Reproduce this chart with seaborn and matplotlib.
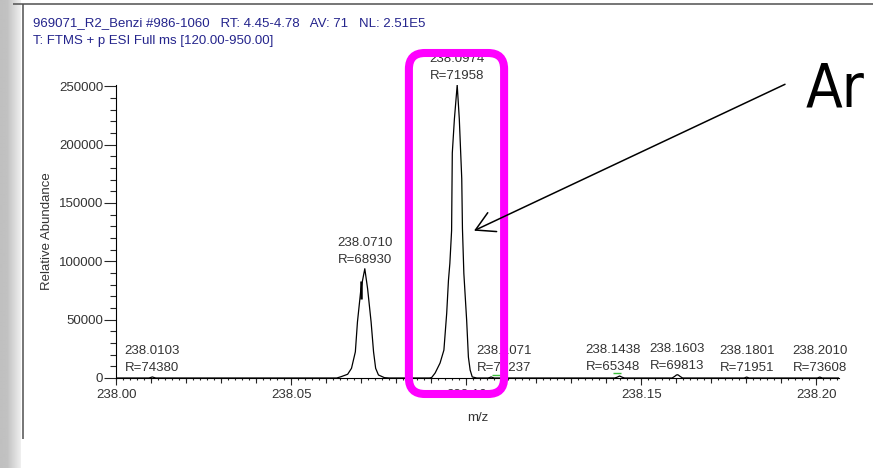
import numpy as np
import pandas as pd
import matplotlib
matplotlib.use("Agg")
import matplotlib.pyplot as plt
import seaborn as sns
from matplotlib.patches import FancyBboxPatch, FancyArrowPatch
from matplotlib.ticker import MultipleLocator, FormatStrFormatter

# ---- profile spectrum -------------------------------------------------------
mz = [
    238.0000,
    238.0093, 238.0098, 238.0103, 238.0108, 238.0113,
    238.0630,
    238.0642, 238.0661, 238.0672, 238.0683, 238.0689, 238.0699, 238.0710,
    238.0718, 238.0728, 238.0735, 238.0741, 238.0749, 238.0766, 238.0780,
    238.0895,
    238.0901, 238.0911, 238.0925, 238.0936, 238.0944, 238.0949, 238.0953,
    238.0958, 238.0959, 238.0960, 238.0966, 238.0974, 238.0980, 238.0987,
    238.0989, 238.0993, 238.1001, 238.1006, 238.1011, 238.1017, 238.1030,
    238.1062, 238.1067, 238.1071, 238.1075, 238.1080,
    238.1424, 238.1431, 238.1438, 238.1445, 238.1452,
    238.1588, 238.1595, 238.1600, 238.1603, 238.1606, 238.1611, 238.1618,
    238.1794, 238.1801, 238.1808,
    238.2003, 238.2010, 238.2017,
    238.2066,
]
intensity = [
    0,
    0, 400, 900, 400, 0,
    0,
    1100, 3200, 8300, 22400, 48000, 76500, 93600,
    76500, 48000, 22400, 8300, 2600, 300, 0,
    0,
    400, 4300, 12800, 23900, 55500, 83600, 98100,
    126300, 160400, 192800, 221900, 251000, 221900, 170700,
    128000, 89600, 49500, 17900, 6800, 900, 0,
    0, 400, 900, 400, 0,
    0, 700, 1700, 700, 0,
    0, 1300, 2500, 2800, 2500, 1300, 0,
    0, 800, 0,
    0, 800, 0,
    0,
]

# labelled peaks
peak_mz = [238.0103, 238.0710, 238.0974, 238.1071, 238.1438, 238.1603, 238.1801, 238.2010]
peak_height = [900, 93600, 251000, 900, 1700, 2800, 800, 800]
peak_res = [74380, 68930, 71958, 71237, 65348, 69813, 71951, 73608]
label_shift_px = [0, 0, 0, 13, -7, 0, 0, 0]

# short green flags on the baseline
flag_lo = [238.1073, 238.1419]
flag_hi = [238.1097, 238.1442]
flag_level = [2600, 4000]

# bold stroke on the flank of the 238.0710 peak
stick_mz = [238.0698]
stick_lo = [68000]
stick_hi = [83000]

# highlighted m/z window around the main peak
box_mz = (238.0836, 238.1108)

header = [
    "969071_R2_Benzi #986-1060   RT: 4.45-4.78   AV: 71   NL: 2.51E5",
    "T: FTMS + p ESI Full ms [120.00-950.00]",
]

# ---- style ------------------------------------------------------------------
sns.set_style("white")
plt.rcParams["font.family"] = ["Liberation Sans", "DejaVu Sans"]
TXT = "#333333"
FS = 9.5

W, H, DPI = 873, 468, 100
fig = plt.figure(figsize=(W / DPI, H / DPI), dpi=DPI)
fig.patch.set_facecolor("white")

# plot area in pixels: x 116.3..839, y 85..378
L, R, T, B = 116.3, 839.0, 85.0, 378.0
ax = fig.add_axes([L / W, (H - B) / H, (R - L) / W, (B - T) / H])
ax.set_facecolor("none")

df = pd.DataFrame({"mz": mz, "intensity": intensity})
sns.lineplot(data=df, x="mz", y="intensity", ax=ax, color="black",
             linewidth=0.9, estimator=None, sort=False)
ax.vlines(stick_mz, stick_lo, stick_hi, color="black", linewidth=1.8)
ax.hlines(flag_level, flag_lo, flag_hi, color="#3cbf3c", linewidth=1.0)

ax.set_xlim(238.0, 238.0 + (R - L) / 3500.0)
ax.set_ylim(0, 251000)

for s in ("top", "right"):
    ax.spines[s].set_visible(False)
for s in ("left", "bottom"):
    ax.spines[s].set_color("black")
    ax.spines[s].set_linewidth(0.8)

ax.xaxis.set_major_locator(MultipleLocator(0.05))
ax.xaxis.set_minor_locator(MultipleLocator(0.01))
ax.xaxis.set_major_formatter(FormatStrFormatter("%.2f"))
ax.yaxis.set_major_locator(MultipleLocator(50000))
ax.yaxis.set_minor_locator(MultipleLocator(10000))
ax.yaxis.set_major_formatter(FormatStrFormatter("%d"))

ax.tick_params(axis="x", which="major", direction="out", length=5, width=0.8,
               pad=3, labelsize=FS, labelcolor=TXT, bottom=True)
ax.tick_params(axis="x", which="minor", direction="out", length=3.6, width=0.8, bottom=True)
ax.tick_params(axis="y", which="major", direction="out", length=9, width=0.8,
               pad=0.5, labelsize=FS, labelcolor=TXT, left=True)
ax.tick_params(axis="y", which="minor", direction="out", length=4.3, width=0.8, left=True)

# finest x ticks every 0.002
sec = ax.secondary_xaxis("bottom")
sec.xaxis.set_major_locator(MultipleLocator(0.002))
sec.tick_params(axis="x", length=1.6, width=0.8, labelbottom=False)
sec.spines["bottom"].set_visible(False)

ax.set_xlabel("m/z", fontsize=FS, color=TXT, va="center")
ax.xaxis.set_label_coords(0.5, (B - 418.0) / (B - T))
ax.set_ylabel("Relative Abundance", fontsize=FS, color=TXT, va="center")
ax.yaxis.set_label_coords((47.5 - L) / (R - L), 0.5)

for x, h, r, dx in zip(peak_mz, peak_height, peak_res, label_shift_px):
    ax.annotate(f"{x:.4f}\nR={r}", xy=(x, h), xytext=(dx * 72 / DPI, 2),
                textcoords="offset points", ha="center", va="bottom",
                fontsize=FS, color=TXT, linespacing=1.55, annotation_clip=False)

# ---- overlay in pixel coordinates -------------------------------------------
ov = fig.add_axes([0, 0, 1, 1], zorder=5)
ov.set_facecolor("none")
ov.axis("off")

grad = np.interp(np.arange(22), [0, 7, 20, 21], [0.75, 0.76, 0.93, 1.0])
ov.imshow(np.tile(grad, (2, 1)), cmap="gray", vmin=0, vmax=1,
          extent=(0, 22, H, 0), aspect="auto", interpolation="bilinear")
ov.set_xlim(0, W)
ov.set_ylim(H, 0)

ov.plot([23, 23], [4, 439], color="#505050", linewidth=1.1, solid_capstyle="butt")
ov.plot([13, W], [4, 4], color="#505050", linewidth=1.1, solid_capstyle="butt")

ov.text(33, 22.7, header[0], fontsize=FS, color="#24248c", va="center", ha="left")
ov.text(33, 40.7, header[1], fontsize=FS, color="#24248c", va="center", ha="left")

bx0 = ax.transData.transform((box_mz[0], 0))[0]
bx1 = ax.transData.transform((box_mz[1], 0))[0]
box = FancyBboxPatch((bx0, 53.0), bx1 - bx0, 394 - 53.0,
                     boxstyle="round,pad=0,rounding_size=16",
                     facecolor="none", edgecolor="#ff00ff", linewidth=5.8)
ov.add_patch(box)

arrow = FancyArrowPatch(posA=(785, 84.3), posB=(474, 230.7),
                        arrowstyle="->,head_length=0.89,head_width=0.5",
                        mutation_scale=15, linewidth=1.1, color="black",
                        shrinkA=0, shrinkB=0)
ov.add_patch(arrow)

ov.text(806, 106.7, "Ar", fontsize=43, ha="left", va="baseline", color="black",
        family=["Liberation Sans Narrow", "DejaVu Sans"], fontstretch="condensed")

fig.savefig("out.png", dpi=DPI)
